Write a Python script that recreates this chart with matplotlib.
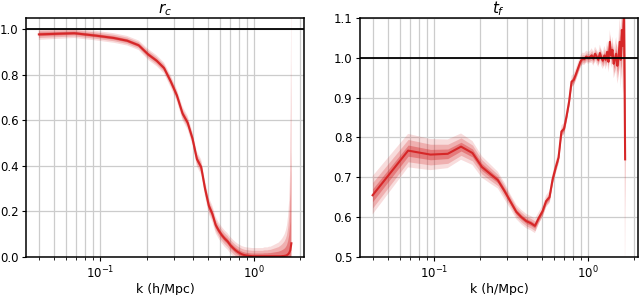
import numpy as np
import matplotlib
matplotlib.use('Agg')
import matplotlib.pyplot as plt

# k bins (h/Mpc)
k = [0.040, 0.068, 0.095, 0.123, 0.150, 0.178, 0.205, 0.233, 0.260, 0.288,
     0.315, 0.343, 0.370, 0.398, 0.425, 0.453, 0.480, 0.508, 0.535, 0.563,
     0.590, 0.618, 0.645, 0.673, 0.700, 0.728, 0.755, 0.783, 0.810, 0.838,
     0.865, 0.893, 0.920, 0.948, 0.975, 1.003, 1.030, 1.058, 1.085, 1.113,
     1.140, 1.168, 1.195, 1.223, 1.250, 1.278, 1.305, 1.333, 1.360, 1.388,
     1.415, 1.443, 1.470, 1.498, 1.525, 1.553, 1.580, 1.608, 1.635, 1.663,
     1.690, 1.718, 1.745]

# cross-correlation coefficient r_c
r_c = [0.978, 0.983, 0.972, 0.962, 0.950, 0.930, 0.890, 0.862, 0.830, 0.770,
       0.710, 0.630, 0.590, 0.520, 0.430, 0.395, 0.300, 0.225, 0.190, 0.140,
       0.115, 0.095, 0.080, 0.068, 0.052, 0.040, 0.030, 0.022, 0.016, 0.011,
       0.008, 0.006, 0.005, 0.004, 0.003, 0.003, 0.003, 0.003, 0.003, 0.003,
       0.003, 0.003, 0.003, 0.003, 0.003, 0.003, 0.003, 0.003, 0.003, 0.003,
       0.003, 0.003, 0.003, 0.003, 0.004, 0.004, 0.005, 0.006, 0.008, 0.012,
       0.018, 0.030, 0.060]
r_err = [0.008, 0.007, 0.007, 0.007, 0.007, 0.007, 0.008, 0.008, 0.008, 0.009,
         0.009, 0.010, 0.010, 0.010, 0.011, 0.011, 0.012, 0.012, 0.012, 0.012,
         0.012, 0.012, 0.012, 0.012, 0.012, 0.012, 0.012, 0.012, 0.012, 0.012,
         0.012, 0.012, 0.012, 0.012, 0.012, 0.012, 0.012, 0.012, 0.012, 0.012,
         0.012, 0.013, 0.013, 0.013, 0.014, 0.014, 0.015, 0.016, 0.017, 0.018,
         0.019, 0.020, 0.022, 0.024, 0.026, 0.029, 0.032, 0.037, 0.044, 0.057,
         0.078, 0.125, 0.400]

# transfer function t_f
t_f = [0.655, 0.767, 0.757, 0.759, 0.777, 0.761, 0.726, 0.708, 0.693, 0.665,
       0.638, 0.613, 0.600, 0.590, 0.585, 0.578, 0.598, 0.615, 0.640, 0.650,
       0.695, 0.725, 0.750, 0.815, 0.822, 0.855, 0.890, 0.940, 0.945, 0.960,
       0.975, 0.990, 0.998, 0.997, 1.003, 1.000, 1.002, 1.006, 0.998, 1.010,
       1.003, 0.995, 1.012, 1.000, 0.993, 1.006, 0.995, 1.015, 0.990, 1.040,
       1.005, 1.020, 0.985, 0.997, 1.010, 0.980, 1.000, 1.040, 0.995, 1.070,
       1.030, 1.110, 0.745]
t_err = [0.016, 0.014, 0.013, 0.012, 0.011, 0.010, 0.009, 0.008, 0.007, 0.007,
         0.006, 0.006, 0.006, 0.006, 0.006, 0.006, 0.005, 0.005, 0.005, 0.005,
         0.005, 0.005, 0.005, 0.005, 0.005, 0.005, 0.005, 0.005, 0.005, 0.005,
         0.005, 0.005, 0.005, 0.005, 0.005, 0.005, 0.005, 0.006, 0.006, 0.006,
         0.006, 0.006, 0.007, 0.007, 0.007, 0.008, 0.008, 0.009, 0.009, 0.010,
         0.010, 0.011, 0.012, 0.013, 0.014, 0.015, 0.017, 0.020, 0.024, 0.030,
         0.040, 0.060, 0.120]

RED = '#d62728'

fig = plt.figure(figsize=(6.4, 2.95), dpi=100)
ax1 = fig.add_axes([0.041, 0.129, 0.434, 0.81])
ax2 = fig.add_axes([0.5625, 0.129, 0.434, 0.81])

def draw(ax, y, err, title, ylim, yticks):
    y = np.array(y)
    err = np.array(err)
    for n, a in [(3, 0.16), (2, 0.24), (1, 0.38)]:
        ax.fill_between(k, y - n * err, y + n * err, color=RED, alpha=a, lw=0)
    ax.plot(k, y, color=RED, lw=1.5)
    ax.axhline(1.0, color='k', lw=1.3)
    ax.set_xscale('log')
    ax.set_ylim(*ylim)
    ax.set_yticks(yticks)
    ax.grid(True, which='both', axis='x', color='#cccccc', lw=0.9)
    ax.grid(True, which='major', axis='y', color='#cccccc', lw=0.9)
    ax.set_axisbelow(True)
    ax.set_title(title, fontsize=11, pad=3)
    ax.set_xlabel('k (h/Mpc)', fontsize=9, labelpad=1)
    ax.tick_params(labelsize=8.5, pad=2.5, length=3)
    ax.tick_params(which='minor', length=2)
    for s in ax.spines.values():
        s.set_linewidth(1.1)

draw(ax1, r_c, r_err, '$r_c$', (0.0, 1.05), [0.0, 0.2, 0.4, 0.6, 0.8, 1.0])
draw(ax2, t_f, t_err, '$t_f$', (0.5, 1.1), [0.5, 0.6, 0.7, 0.8, 0.9, 1.0, 1.1])

fig.savefig('out.png', dpi=100)
